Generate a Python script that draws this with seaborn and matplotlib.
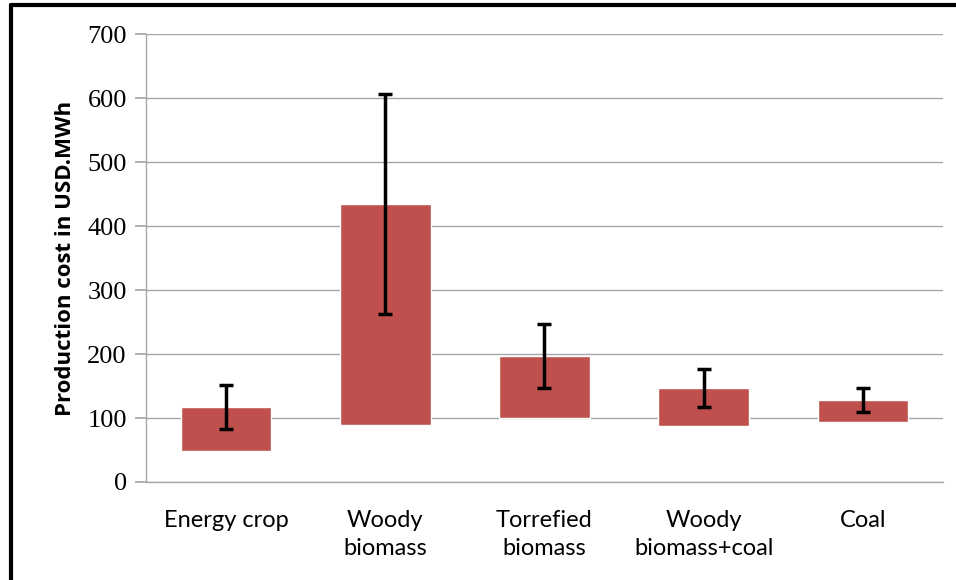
import matplotlib
matplotlib.use("Agg")
import matplotlib.pyplot as plt
import pandas as pd
import seaborn as sns
from matplotlib.lines import Line2D

# Data
categories = ["Energy crop", "Woody\nbiomass", "Torrefied\nbiomass", "Woody\nbiomass+coal", "Coal"]
low_cost = [48, 89, 100, 87, 94]
high_cost = [117, 434, 197, 147, 128]
err_half = [34, 172, 50, 30, 19]

df = pd.DataFrame({"category": categories, "low": low_cost, "high": high_cost, "err": err_half})
df["span"] = df["high"] - df["low"]

sns.set_theme(style="white")
fig = plt.figure(figsize=(9.56, 5.8), dpi=100)
ax = fig.add_axes([0.153, 0.169, 0.833, 0.772])

sns.barplot(data=df, x="category", y="span", bottom=df["low"].values, color="#C0504D",
            saturation=1, width=0.57, ax=ax, zorder=2)
ax.errorbar(range(len(df)), df["high"], yerr=df["err"], fmt="none", ecolor="black",
            elinewidth=2.5, capsize=5, capthick=2.5, zorder=3)

ax.set_xlim(-0.5, 4.5)
ax.set_ylim(0, 700)
ax.set_yticks(range(0, 701, 100))
ax.yaxis.grid(True, color="#a6a6a6", linewidth=1)
ax.set_axisbelow(True)
for s in ["top", "right"]:
    ax.spines[s].set_visible(False)
for s in ["left", "bottom"]:
    ax.spines[s].set_color("#a6a6a6")
    ax.spines[s].set_linewidth(1)
ax.tick_params(axis="y", left=True, length=8, color="#a6a6a6", pad=6, labelcolor="black")
ax.tick_params(axis="x", bottom=False, pad=14, labelcolor="black")

for lab in ax.get_yticklabels():
    lab.set_fontfamily("Liberation Serif")
    lab.set_fontsize(19)
for lab in ax.get_xticklabels():
    lab.set_fontfamily("Lato")
    lab.set_fontsize(17)
    lab.set_linespacing(1.45)

ax.set_xlabel("")
ax.set_ylabel("Production cost in USD.MWh", fontfamily="Open Sans", fontweight="bold",
              fontsize=16, color="black", labelpad=8)

# black frame on top and left edges as in the reference image
fig.add_artist(Line2D([0.011, 1.0], [0.991, 0.991], color="black", linewidth=3, transform=fig.transFigure))
fig.add_artist(Line2D([0.011, 0.011], [0.0, 0.991], color="black", linewidth=3, transform=fig.transFigure))

fig.savefig("out.png", dpi=100)
